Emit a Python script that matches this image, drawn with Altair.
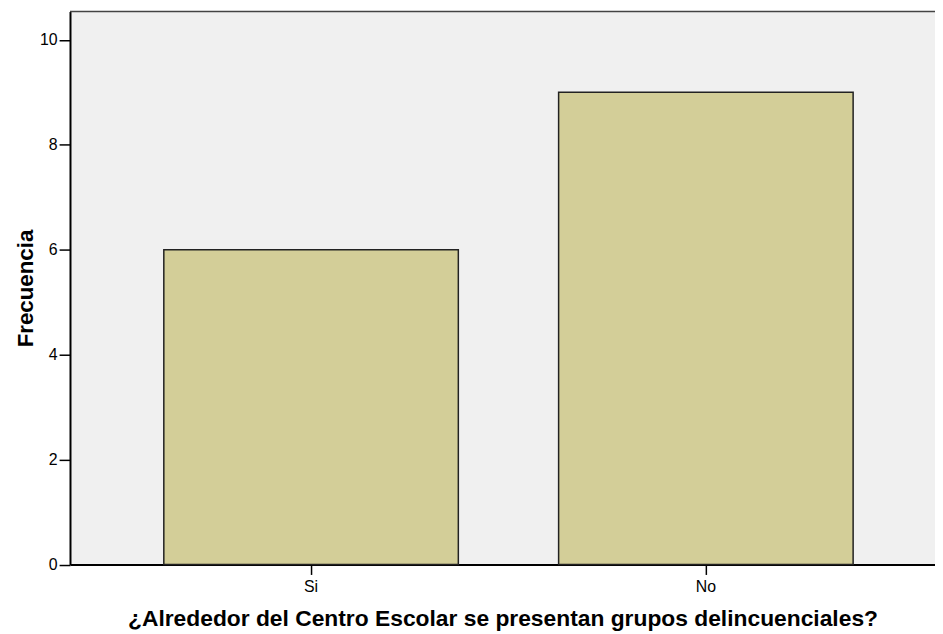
import altair as alt
import pandas as pd

categories = ["Si", "No"]
counts = [6, 9]
y_ticks = [0, 2, 4, 6, 8, 10]
y_max = 10.54

df = pd.DataFrame({"cat": categories, "n": counts})
W, H = 872, 557.5
FONT = "Liberation Sans"

bars = alt.Chart(df).mark_bar(
    color="#d3ce98", stroke="#222222", strokeWidth=1.5
).encode(
    x=alt.X(
        "cat:N",
        sort=categories,
        scale=alt.Scale(paddingInner=0.254, paddingOuter=0.2225, align=0.534),
        axis=alt.Axis(
            title="¿Alrededor del Centro Escolar se presentan grupos delincuenciales?",
            labelAngle=0,
            labelFont=FONT,
            labelFontSize=16,
            labelColor="#000000",
            labelBaseline="alphabetic",
            labelPadding=17.5,
            tickSize=10,
            tickWidth=1.5,
            tickColor="#000000",
            domainColor="#000000",
            domainWidth=2,
            titleFont=FONT,
            titleFontSize=23,
            titleFontWeight="bold",
            titleColor="#000000",
            titleBaseline="alphabetic",
            titleX=W / 2,
            titleY=61.5,
        ),
    ),
    y=alt.Y(
        "n:Q",
        scale=alt.Scale(domain=[0, y_max], nice=False, zero=True),
        axis=alt.Axis(
            values=y_ticks,
            title="Frecuencia",
            grid=False,
            labelFont=FONT,
            labelFontSize=16,
            labelColor="#000000",
            labelPadding=2,
            tickSize=11,
            tickWidth=1.5,
            tickColor="#000000",
            domainColor="#000000",
            domainWidth=2,
            titleFont=FONT,
            titleFontSize=22.5,
            titleFontWeight="bold",
            titleColor="#000000",
            titleBaseline="alphabetic",
            titleX=-38,
            titleY=H / 2,
        ),
    ),
)

top = alt.Chart(pd.DataFrame({"a": [0]})).mark_rule(
    color="#444444", strokeWidth=1.5
).encode(y=alt.value(0), x=alt.value(0), x2=alt.value(W))

chart = (
    alt.layer(bars, top)
    .properties(
        width=W,
        height=H,
        autosize=alt.AutoSizeParams(type="none"),
        padding={"left": 62.5, "top": 1, "right": 0, "bottom": 67},
        background="#ffffff",
    )
    .configure_view(fill="#f0f0f0", stroke="transparent")
)

chart.save("out.html", embed_options={"renderer": "svg", "actions": False})
